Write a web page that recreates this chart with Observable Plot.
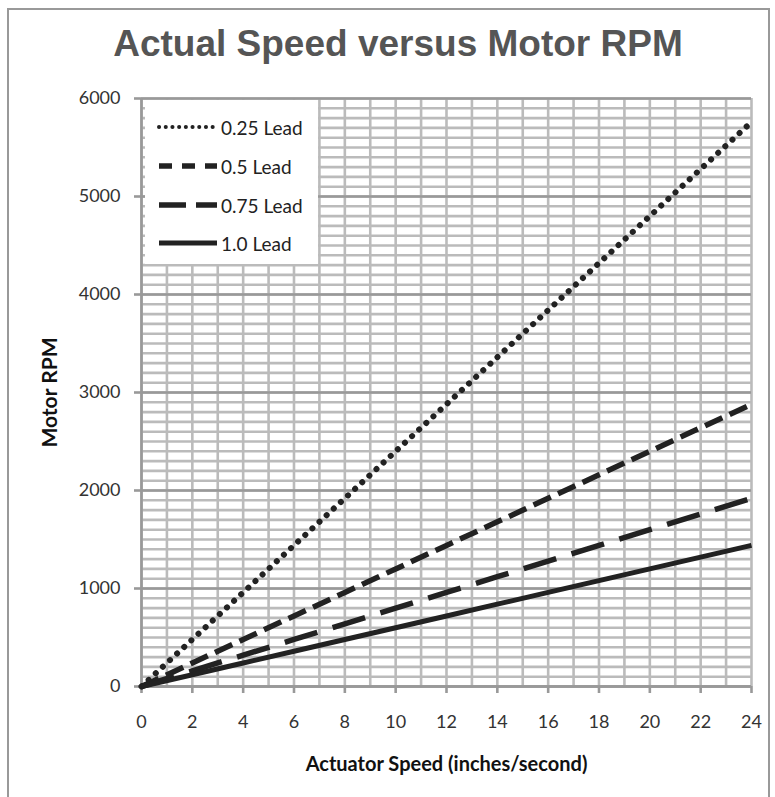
<!DOCTYPE html>
<html>
<head>
<meta charset="utf-8">
<script src="https://cdn.jsdelivr.net/npm/d3@7"></script>
<script src="https://cdn.jsdelivr.net/npm/@observablehq/plot@0.6"></script>
<style>
  html, body { margin: 0; padding: 0; background: #fff; }
  #wrap { position: relative; width: 775px; height: 797px; overflow: hidden; }
  #border { position: absolute; left: 7px; top: 8px; width: 763px; height: 800px; border: 2px solid #999; box-sizing: border-box; }
  #title { position: absolute; left: 0; width: 796px; top: 25px; line-height: 37px; text-align: center; font-family: "Liberation Sans", Arial, sans-serif; font-weight: bold; font-size: 37px; color: #555; white-space: nowrap; }
  #chart { position: absolute; left: 0; top: 0; }
  #legend { position: absolute; left: 145px; top: 100px; width: 173px; height: 164px; background: #fff; font-family: Lato, "Open Sans", sans-serif; font-size: 19px; color: #222; }
  .row { position: absolute; left: 10px; height: 20px; display: flex; align-items: center; }
  .row span { margin-left: 2px; }
</style>
</head>
<body>
<div id="wrap">
  <div id="border"></div>
  <div id="title">Actual Speed versus Motor RPM</div>
  <div id="chart"></div>
  <div id="legend"></div>
</div>
<script>
// Data (RPM vs actuator speed)
const speed = [0, 2, 4, 6, 8, 10, 12, 14, 16, 18, 20, 22, 24];
const lead025 = [0, 480, 960, 1440, 1920, 2400, 2880, 3360, 3840, 4320, 4800, 5280, 5760];
const lead050 = [0, 240, 480, 720, 960, 1200, 1440, 1680, 1920, 2160, 2400, 2640, 2880];
const lead075 = [0, 160, 320, 480, 640, 800, 960, 1120, 1280, 1440, 1600, 1760, 1920];
const lead100 = [0, 120, 240, 360, 480, 600, 720, 840, 960, 1080, 1200, 1320, 1440];
const seriesNames = ["0.25 Lead", "0.5 Lead", "0.75 Lead", "1.0 Lead"];
const xTicks = [0, 2, 4, 6, 8, 10, 12, 14, 16, 18, 20, 22, 24];
const yTicks = [0, 1000, 2000, 3000, 4000, 5000, 6000];

const styles = [
  {dash: "0.1 9.6", width: 6, cap: "round", legDash: "0.1 6.6", legWidth: 4},
  {dash: "19 8", width: 5.5, cap: "butt", legDash: "13 10", legWidth: 5.5},
  {dash: "34 16", width: 5.5, cap: "butt", legDash: "27 10", legWidth: 5.5},
  {dash: null, width: 5, cap: "butt", legDash: null, legWidth: 5}
];
const values = [lead025, lead050, lead075, lead100];
const rows = [];
values.forEach((v, i) => speed.forEach((s, j) => rows.push({series: seriesNames[i], speed: s, rpm: v[j]})));

const font = 'Lato, "Open Sans", sans-serif';
const lineMarks = seriesNames.map((name, i) =>
  Plot.line(rows.filter(d => d.series === name), {
    x: "speed", y: "rpm", stroke: "#222",
    strokeWidth: styles[i].width,
    strokeDasharray: styles[i].dash,
    strokeLinecap: styles[i].cap
  })
);

const chart = Plot.plot({
  width: 775,
  height: 797,
  marginLeft: 141,
  marginRight: 24,
  marginTop: 98,
  marginBottom: 111,
  style: {fontFamily: font, fontSize: "18px", color: "#333", background: "transparent"},
  x: {domain: [0, 24]},
  y: {domain: [0, 6000]},
  marks: [
    Plot.ruleX(d3.range(0, 25, 1), {stroke: "#bbb", strokeWidth: 2.6}),
    Plot.ruleY(d3.range(0, 6001, 100), {stroke: "#bbb", strokeWidth: 2.6}),
    Plot.ruleY(yTicks, {stroke: "#999", strokeWidth: 2.6}),
    Plot.ruleX([0], {stroke: "#999", strokeWidth: 2.6}),
    Plot.ruleY([0], {stroke: "#999", strokeWidth: 2.6}),
    Plot.axisX(xTicks, {tickSize: 7, tickPadding: 22, stroke: "#999", strokeWidth: 2.6, label: null, fill: "#333", fontSize: 18}),
    Plot.axisY(yTicks, {tickSize: 7, tickPadding: 14, stroke: "#999", strokeWidth: 2.6, label: null, tickFormat: d => String(d), fill: "#333", fontSize: 18}),
    ...lineMarks,
    Plot.text(["Actuator Speed (inches/second)"], {frameAnchor: "bottom", lineAnchor: "middle", dy: 78, fontWeight: "bold", fontSize: 20, fill: "#111"}),
    Plot.text(["Motor RPM"], {frameAnchor: "left", textAnchor: "middle", lineAnchor: "middle", dx: -91, rotate: -90, fontWeight: "bold", fontSize: 21, fill: "#111"})
  ]
});
document.getElementById("chart").appendChild(chart);

// Legend (static key)
const legend = document.getElementById("legend");
const rowTops = [17, 56, 95, 133];
seriesNames.forEach((name, i) => {
  const r = document.createElement("div");
  r.className = "row";
  r.style.top = rowTops[i] + "px";
  const st = styles[i];
  r.innerHTML = `<svg width="64" height="20"><line x1="4" y1="10" x2="62" y2="10" stroke="#222" stroke-width="${st.legWidth}" ${st.legDash ? `stroke-dasharray="${st.legDash}"` : ""} stroke-linecap="${st.cap}"/></svg><span>${name}</span>`;
  legend.appendChild(r);
});
</script>
</body>
</html>
